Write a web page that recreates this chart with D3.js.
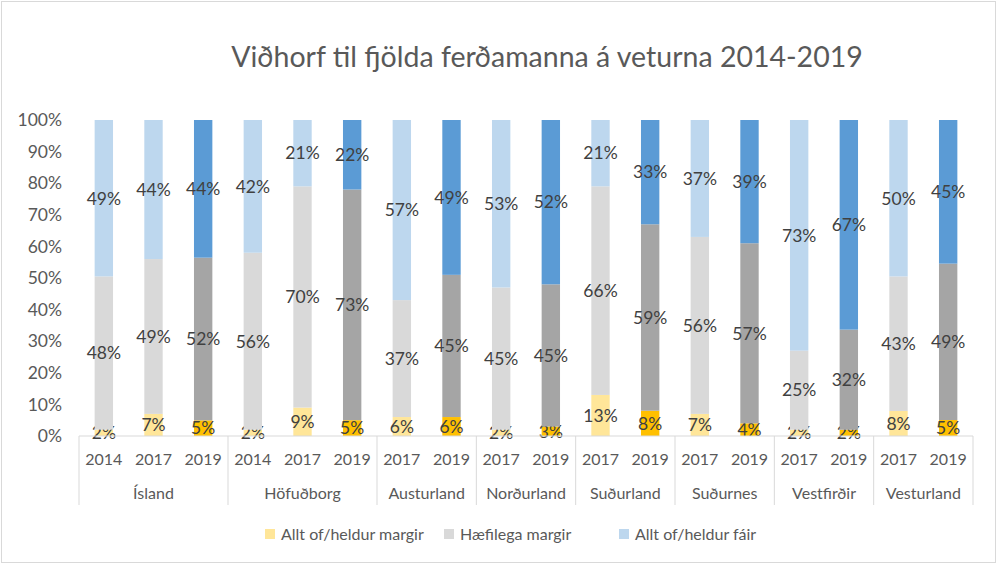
<!DOCTYPE html>
<html>
<head>
<meta charset="utf-8">
<script src="https://cdn.jsdelivr.net/npm/d3@7"></script>
<style>
  body { margin: 0; background: #fff; }
  text { font-family: Lato, "Open Sans", sans-serif; }
</style>
</head>
<body>
<div id="container"></div>
<script>
/* CONSTANTS AND GLOBALS */
const width = 998,
  height = 565,
  margin = {top: 120, bottom: 129, left: 79, right: 25};

// data - one entry per bar
const regions = ["Ísland", "Ísland", "Ísland", "Höfuðborg", "Höfuðborg", "Höfuðborg",
  "Austurland", "Austurland", "Norðurland", "Norðurland", "Suðurland", "Suðurland",
  "Suðurnes", "Suðurnes", "Vestfirðir", "Vestfirðir", "Vesturland", "Vesturland"];
const years = ["2014", "2017", "2019", "2014", "2017", "2019",
  "2017", "2019", "2017", "2019", "2017", "2019",
  "2017", "2019", "2017", "2019", "2017", "2019"];
const margir = [2, 7, 5, 2, 9, 5, 6, 6, 2, 3, 13, 8, 7, 4, 2, 2, 8, 5];
const haefilega = [48, 49, 52, 56, 70, 73, 37, 45, 45, 45, 66, 59, 56, 57, 25, 32, 43, 49];
const fair = [49, 44, 44, 42, 21, 22, 57, 49, 53, 52, 21, 33, 37, 39, 73, 67, 50, 45];
const seriesNames = ["Allt of/heldur margir", "Hæfilega margir", "Allt of/heldur fáir"];
const yTicks = [0, 0.1, 0.2, 0.3, 0.4, 0.5, 0.6, 0.7, 0.8, 0.9, 1];

const lightColors = ["#FFE699", "#D9D9D9", "#BDD7EE"];
const darkColors = ["#FFC000", "#A5A5A5", "#5B9BD5"];

const keys = ["margir", "haefilega", "fair"];
const data = regions.map((r, i) => ({
  id: i, region: r, year: years[i],
  margir: margir[i], haefilega: haefilega[i], fair: fair[i]
}));

/* INITIALIZING */
const svg = d3.select("#container")
  .append("svg")
  .attr("width", width)
  .attr("height", height);

// outer frame
svg.append("rect")
  .attr("x", 1.5).attr("y", 1.5)
  .attr("width", width - 4).attr("height", height - 4)
  .attr("fill", "none")
  .attr("stroke", "#D9D9D9");

const xScale = d3.scaleBand()
  .domain(data.map(d => d.id))
  .range([margin.left, width - margin.right])
  .paddingInner(0.63)
  .paddingOuter(0.315);

const yScale = d3.scaleLinear()
  .domain([0, 1])
  .range([height - margin.bottom, margin.top]);

const stacked = d3.stack()
  .keys(keys)
  .offset(d3.stackOffsetExpand)(data);

// title
svg.append("text")
  .attr("x", 547)
  .attr("y", 67)
  .attr("text-anchor", "middle")
  .attr("font-size", 28.5)
  .attr("fill", "#595959")
  .text("Viðhorf til fjölda ferðamanna á veturna 2014-2019");

// y axis (no line)
const yAxis = d3.axisLeft(yScale)
  .tickValues(yTicks)
  .tickFormat(d3.format(".0%"))
  .tickSize(0)
  .tickPadding(17);

svg.append("g")
  .attr("class", "yAxis")
  .attr("transform", `translate(${margin.left},0)`)
  .call(yAxis)
  .call(g => g.select(".domain").remove())
  .call(g => g.selectAll("text")
    .attr("font-size", 17.5)
    .attr("fill", "#595959")
    .style("font-family", "Lato, sans-serif"));

// bars
const layers = svg.selectAll("g.layer")
  .data(stacked)
  .join("g")
  .attr("class", "layer");

layers.selectAll("rect")
  .data((s, si) => s.map(p => ({p, si})))
  .join("rect")
  .attr("x", d => xScale(d.p.data.id))
  .attr("width", xScale.bandwidth())
  .attr("y", d => yScale(d.p[1]))
  .attr("height", d => yScale(d.p[0]) - yScale(d.p[1]))
  .attr("fill", d => d.p.data.year === "2019" ? darkColors[d.si] : lightColors[d.si]);

// category axis
const axisY = height - margin.bottom;
const step = xScale.step();
svg.append("line")
  .attr("x1", margin.left).attr("x2", width - margin.right)
  .attr("y1", axisY).attr("y2", axisY)
  .attr("stroke", "#D9D9D9");

// year labels
svg.selectAll("text.year")
  .data(data)
  .join("text")
  .attr("class", "year")
  .attr("x", d => xScale(d.id) + xScale.bandwidth() / 2)
  .attr("y", axisY + 29)
  .attr("text-anchor", "middle")
  .attr("font-size", 16)
  .attr("fill", "#595959")
  .text(d => d.year);

// region groups
const groups = d3.groups(data, d => d.region).map(([name, rows]) => ({
  name,
  x0: xScale(rows[0].id) - (step - xScale.bandwidth()) / 2,
  x1: xScale(rows[rows.length - 1].id) + xScale.bandwidth() + (step - xScale.bandwidth()) / 2
}));

const sepX = [groups[0].x0].concat(groups.map(g => g.x1));
svg.selectAll("line.sep")
  .data(sepX)
  .join("line")
  .attr("class", "sep")
  .attr("x1", d => d).attr("x2", d => d)
  .attr("y1", axisY).attr("y2", axisY + 69)
  .attr("stroke", "#D9D9D9");

svg.selectAll("text.region")
  .data(groups)
  .join("text")
  .attr("class", "region")
  .attr("x", d => (d.x0 + d.x1) / 2)
  .attr("y", axisY + 63)
  .attr("text-anchor", "middle")
  .attr("font-size", 16)
  .attr("fill", "#595959")
  .text(d => d.name);

// data labels
layers.selectAll("text")
  .data(s => s.map(p => ({p, key: s.key})))
  .join("text")
  .attr("x", d => xScale(d.p.data.id) + xScale.bandwidth() / 2)
  .attr("y", d => yScale((d.p[0] + d.p[1]) / 2))
  .attr("dy", "0.36em")
  .attr("text-anchor", "middle")
  .attr("font-size", 17.5)
  .attr("fill", "#404040")
  .text(d => d.p.data[d.key] + "%");

// legend
const legend = svg.append("g")
  .selectAll("g")
  .data(seriesNames)
  .join("g")
  .attr("transform", (d, i) => `translate(${[265, 444, 619][i]},534)`);

legend.append("rect")
  .attr("x", 0).attr("y", -5)
  .attr("width", 10).attr("height", 10)
  .attr("fill", (d, i) => lightColors[i]);

legend.append("text")
  .attr("x", 16)
  .attr("dy", "0.36em")
  .attr("font-size", 16)
  .attr("fill", "#595959")
  .text(d => d);
</script>
</body>
</html>
